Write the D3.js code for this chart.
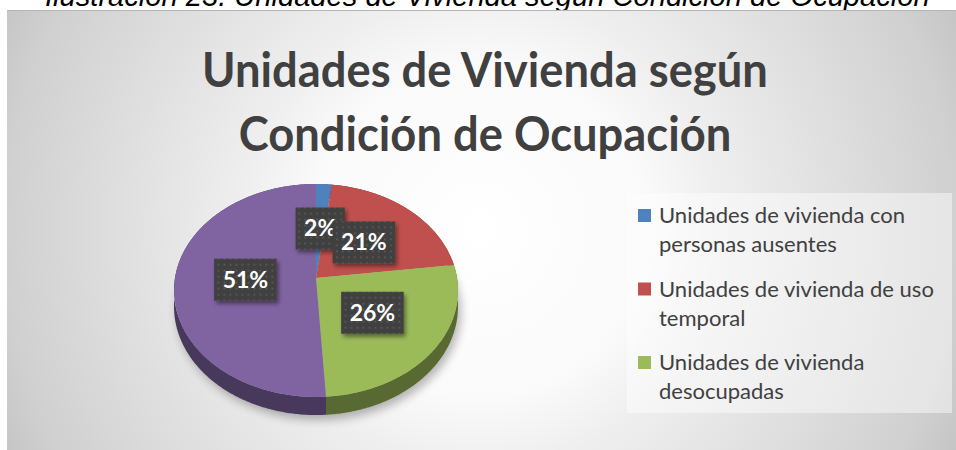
<!DOCTYPE html>
<html>
<head>
<meta charset="utf-8">
<script src="https://cdn.jsdelivr.net/npm/d3@7"></script>
<style>
  body { margin: 0; background: #fff; }
  svg { display: block; }
</style>
</head>
<body>
<script>
// Values (share of housing units, in %)
var categories = [
  "Unidades de vivienda con personas ausentes",
  "Unidades de vivienda de uso temporal",
  "Unidades de vivienda desocupadas",
  "Unidades de vivienda con personas presentes"
];
var values = [2, 21, 26, 51];
var colors = ["#4f81bd", "#c0504d", "#9bbb59", "#8064a2"];

// legend only shows the first three entries (the box cuts off the rest)
var legendLines = [
  ["Unidades de vivienda con", "personas ausentes"],
  ["Unidades de vivienda de uso", "temporal"],
  ["Unidades de vivienda", "desocupadas"]
];
var titleLines = ["Unidades de Vivienda según", "Condición de Ocupación"];
var caption = "Ilustración 23. Unidades de Vivienda según Condición de Ocupación";

var width = 956, height = 450;

var svg = d3.select("body").append("svg")
    .attr("width", width)
    .attr("height", height);

var defs = svg.append("defs");

// chart area background, white in the middle, grey towards the edges
var bg = defs.append("radialGradient")
    .attr("id", "bg")
    .attr("gradientUnits", "userSpaceOnUse")
    .attr("cx", 480).attr("cy", 230).attr("r", 560);
[[0, "#ffffff"], [0.3, "#fafafa"], [0.42, "#efefef"], [0.85, "#d0d0d0"], [1, "#bdbdbd"]]
  .forEach(function(s) {
    bg.append("stop").attr("offset", s[0]).attr("stop-color", s[1]);
  });

// soft shadow under the pie
defs.append("filter").attr("id", "blur")
    .attr("x", "-20%").attr("y", "-20%").attr("width", "140%").attr("height", "140%")
  .append("feGaussianBlur").attr("stdDeviation", 5);

// drop shadow for the label boxes
defs.append("filter").attr("id", "boxShadow")
    .attr("x", "-30%").attr("y", "-30%").attr("width", "160%").attr("height", "160%")
  .append("feDropShadow")
    .attr("dx", 2).attr("dy", 3).attr("stdDeviation", 2)
    .attr("flood-color", "#000").attr("flood-opacity", 0.45);

// dotted texture of the label boxes
var pat = defs.append("pattern")
    .attr("id", "dots")
    .attr("patternUnits", "userSpaceOnUse")
    .attr("width", 6).attr("height", 6);
pat.append("rect").attr("width", 6).attr("height", 6).attr("fill", "#404040");
pat.append("rect").attr("x", 2).attr("y", 2).attr("width", 2).attr("height", 2).attr("fill", "#545454");

// caption above the chart (cut off by the picture's top edge, as in the source)
var cap = svg.append("text")
    .attr("x", 45)
    .attr("y", 6)
    .style("font-family", "'Liberation Sans', Arial, sans-serif")
    .style("font-style", "italic")
    .style("font-size", "26px")
    .attr("fill", "#000")
    .text(caption);
cap.style("font-size", (26 * 885 / cap.node().getComputedTextLength()) + "px");

// chart area
svg.append("rect")
    .attr("x", 7).attr("y", 10)
    .attr("width", width - 7).attr("height", height - 10)
    .attr("fill", "url(#bg)");
svg.append("line")
    .attr("x1", 7).attr("x2", width)
    .attr("y1", 10.5).attr("y2", 10.5)
    .attr("stroke", "#b5b5b5");

// title: a bit condensed so it reads like the narrow original face
var title = svg.append("g")
    .attr("fill", "#404040")
    .style("font-family", "Lato, 'Open Sans', sans-serif")
    .style("font-weight", "bold")
    .style("font-size", "47px")
    .attr("text-anchor", "middle");
var titleText = title.selectAll("text")
  .data(titleLines)
  .join("text")
    .attr("x", 0)
    .attr("y", function(d, i) { return 87 + i * 64; })
    .text(function(d) { return d; });
var squeeze = 566 / titleText.node().getComputedTextLength();
title.attr("transform", "translate(485,0) scale(" + squeeze + ",1)");

// ---- 3D pie ----
var pie = d3.pie().sort(null).value(function(d) { return d; });
var arcs = pie(values);
var total = d3.sum(values);

// tilted disc seen in perspective
var cx = 316, cy = 278, rx = 141, ry = 105, persp = 0.117, depth = 16;

function scaleAt(angle, r) {
  return 1 / (1 + persp * r * Math.cos(angle));
}
function project(angle, r) {
  var s = scaleAt(angle, r);
  return [cx + rx * r * Math.sin(angle) * s, cy - ry * r * Math.cos(angle) * s];
}
function angleSteps(a0, a1) {
  var n = Math.max(2, Math.ceil((a1 - a0) / 0.01));
  return d3.range(n + 1).map(function(i) { return a0 + (a1 - a0) * i / n; });
}
var line = d3.line();

var pieG = svg.append("g");

// shadow below the disc
var ring = angleSteps(0, 2 * Math.PI);
pieG.append("path")
    .attr("d", line(ring.map(function(a) {
      var p = project(a, 1.0);
      return [p[0] + 3, p[1] + depth * scaleAt(a, 1) + 5];
    })) + "Z")
    .attr("fill", "#000")
    .attr("opacity", 0.28)
    .attr("filter", "url(#blur)");

// side walls
pieG.selectAll(".side")
  .data(arcs)
  .join("path")
    .attr("class", "side")
    .attr("fill", function(d, i) { return d3.color(colors[i]).darker(1.6); })
    .attr("d", function(d) {
      var steps = angleSteps(d.startAngle, d.endAngle);
      var upper = steps.map(function(a) { return project(a, 1); });
      var lower = steps.map(function(a) {
        var p = project(a, 1);
        return [p[0], p[1] + depth * scaleAt(a, 1)];
      }).reverse();
      return line(upper.concat(lower)) + "Z";
    });

// top faces
pieG.selectAll(".slice")
  .data(arcs)
  .join("path")
    .attr("class", "slice")
    .attr("fill", function(d, i) { return colors[i]; })
    .attr("d", function(d) {
      var pts = [[cx, cy]].concat(angleSteps(d.startAngle, d.endAngle).map(function(a) {
        return project(a, 1);
      }));
      return line(pts) + "Z";
    });

// data labels in dark boxes
var labels = svg.append("g").selectAll("g")
  .data(arcs)
  .join("g")
    .attr("transform", function(d) {
      return "translate(" + project((d.startAngle + d.endAngle) / 2, 0.5) + ")";
    });

labels.each(function(d) {
  var g = d3.select(this);
  var rect = g.append("rect")
      .attr("fill", "url(#dots)")
      .attr("filter", "url(#boxShadow)");
  var t = g.append("text")
      .attr("text-anchor", "middle")
      .attr("y", 8)
      .attr("fill", "#fff")
      .style("font-family", "Lato, 'Open Sans', sans-serif")
      .style("font-weight", "bold")
      .style("font-size", "23px")
      .text(Math.round(d.value / total * 100) + "%");
  var w = t.node().getComputedTextLength() + 17;
  rect.attr("x", -w / 2).attr("y", -21).attr("width", w).attr("height", 42);
});

// ---- legend ----
var legend = svg.append("g");
legend.append("rect")
    .attr("x", 627).attr("y", 193)
    .attr("width", 325).attr("height", 220)
    .attr("fill", "#fff")
    .attr("fill-opacity", 0.45);

var items = legend.selectAll(".item")
  .data(legendLines)
  .join("g")
    .attr("class", "item")
    .attr("transform", function(d, i) { return "translate(0," + (223 + i * 73.5) + ")"; });

items.append("rect")
    .attr("x", 638).attr("y", -14)
    .attr("width", 13).attr("height", 13)
    .attr("fill", function(d, i) { return colors[i]; });

var legendText = items.selectAll("text")
  .data(function(d) { return d; })
  .join("text")
    .attr("x", 659)
    .attr("y", function(d, j) { return j * 29; })
    .attr("fill", "#404040")
    .style("font-family", "Lato, 'Open Sans', sans-serif")
    .style("font-size", "20px")
    .text(function(d) { return d; });

var longest = d3.max(legendText.nodes(), function(n) { return n.getComputedTextLength(); });
legendText.style("font-size", (20 * 275 / longest) + "px");
</script>
</body>
</html>
